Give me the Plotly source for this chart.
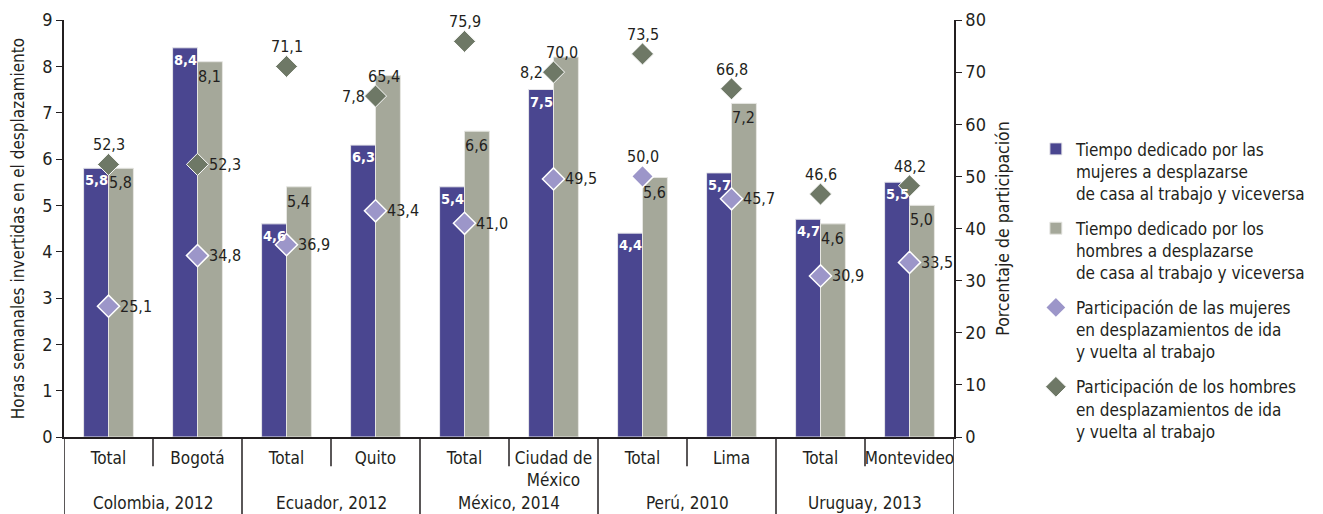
import plotly.graph_objects as go

# datos
paises = ['Colombia, 2012', 'Ecuador, 2012', 'México, 2014', 'Perú, 2010', 'Uruguay, 2013']
areas = ['Total', 'Bogotá', 'Total', 'Quito', 'Total', 'Ciudad de<br>México', 'Total', 'Lima', 'Total', 'Montevideo']
horas_mujeres = [5.8, 8.4, 4.6, 6.3, 5.4, 7.5, 4.4, 5.7, 4.7, 5.5]
horas_hombres = [5.8, 8.1, 5.4, 7.8, 6.6, 8.2, 5.6, 7.2, 4.6, 5.0]
part_mujeres = [25.1, 34.8, 36.9, 43.4, 41.0, 49.5, 50.0, 45.7, 30.9, 33.5]
part_hombres = [52.3, 52.3, 71.1, 65.4, 75.9, 70.0, 73.5, 66.8, 46.6, 48.2]

C_MUJ = '#4a4690'
C_HOM = '#a5a89a'
C_PMUJ = '#9c96c9'
C_PHOM = '#6e7866'
TXT = '#231f20'
FONT = 'DejaVu Sans Condensed, DejaVu Sans, sans-serif'

def fmt(v):
    return f'{v:.1f}'.replace('.', ',')

x = list(range(len(areas)))
off = 0.14

fig = go.Figure()
fig.add_trace(go.Bar(x=x, y=horas_mujeres, name='Tiempo dedicado por las<br>mujeres a desplazarse<br>de casa al trabajo y viceversa',
                     marker=dict(color=C_MUJ, line=dict(color='#e6e6ea', width=1)), offsetgroup='m', legendgroup='a'))
fig.add_trace(go.Bar(x=x, y=horas_hombres, name='Tiempo dedicado por los<br>hombres a desplazarse<br>de casa al trabajo y viceversa',
                     marker=dict(color=C_HOM, line=dict(color='#e6e6e2', width=1)), offsetgroup='h', legendgroup='b'))
fig.add_trace(go.Scatter(x=x, y=part_mujeres, yaxis='y2', mode='markers', legendgroup='c',
                         name='Participación de las mujeres<br>en desplazamientos de ida<br>y vuelta al trabajo',
                         marker=dict(symbol='diamond', size=17, color=C_PMUJ, line=dict(color='white', width=1.5))))
fig.add_trace(go.Scatter(x=x, y=part_hombres, yaxis='y2', mode='markers', legendgroup='d',
                         name='Participación de los hombres<br>en desplazamientos de ida<br>y vuelta al trabajo',
                         marker=dict(symbol='diamond', size=17, color=C_PHOM, line=dict(color='white', width=1))))

ann = []
# etiquetas de horas
for i in x:
    ann.append(dict(x=i - off, y=horas_mujeres[i], text=f'<b>{fmt(horas_mujeres[i])}</b>', showarrow=False,
                    yanchor='top', yshift=-2, font=dict(color='white', size=14.5)))
    if i in (3, 5):
        # etiqueta a la izquierda del rombo de hombres
        ann.append(dict(x=i, y=part_hombres[i] * 9 / 80, text=fmt(horas_hombres[i]), showarrow=False,
                        xanchor='right', xshift=-9, font=dict(color=TXT, size=16)))
    else:
        ann.append(dict(x=i + off, y=horas_hombres[i], text=fmt(horas_hombres[i]), showarrow=False,
                        yanchor='top', yshift=-3, font=dict(color=TXT, size=16)))
# etiquetas de participación
for i in x:
    if i == 1:
        ann.append(dict(x=i, y=part_hombres[i], yref='y2', text=fmt(part_hombres[i]), showarrow=False,
                        xanchor='left', xshift=9, font=dict(color=TXT, size=16)))
    else:
        dx = 0.1 if i in (3, 5) else 0
        ann.append(dict(x=i + dx, y=part_hombres[i], yref='y2', text=fmt(part_hombres[i]), showarrow=False,
                        yanchor='bottom', yshift=8, font=dict(color=TXT, size=16)))
    if i == 6:
        ann.append(dict(x=i, y=part_mujeres[i], yref='y2', text=fmt(part_mujeres[i]), showarrow=False,
                        yanchor='bottom', yshift=8, font=dict(color=TXT, size=16)))
    else:
        ann.append(dict(x=i, y=part_mujeres[i], yref='y2', text=fmt(part_mujeres[i]), showarrow=False,
                        xanchor='left', xshift=9, font=dict(color=TXT, size=16)))
# etiquetas de país
for k, p in enumerate(paises):
    ann.append(dict(x=2 * k + 0.5, y=-0.158, yref='paper', text=p, showarrow=False, yanchor='middle',
                    font=dict(color=TXT, size=17)))

# separadores del eje de categorías
shapes = []
for b in range(len(areas) + 1):
    xb = b - 0.5
    y1 = -0.2 if b % 2 == 0 else -0.07
    shapes.append(dict(type='line', xref='x', yref='paper', x0=xb, x1=xb, y0=0, y1=y1,
                       line=dict(color=TXT, width=1.5)))

# la página html añade 8px de margen al cuerpo
fig.update_layout(
    width=1315, height=506,
    margin=dict(l=56, r=360, t=12, b=77),
    paper_bgcolor='white', plot_bgcolor='white',
    font=dict(family=FONT, color=TXT, size=17),
    barmode='group', bargap=0.44, bargroupgap=0,
    showlegend=True,
    legend=dict(x=1.092, y=0.733, xanchor='left', yanchor='top', valign='top',
                font=dict(size=17), tracegroupgap=10, itemwidth=30),
    annotations=ann, shapes=shapes,
    xaxis=dict(tickmode='array', tickvals=x, ticktext=areas, range=[-0.5, 9.5], automargin=False,
               showline=True, linecolor=TXT, linewidth=1.5, ticks='', showgrid=False,
               tickfont=dict(size=17), zeroline=False, ticklabelstandoff=5),
    yaxis=dict(range=[0, 9], dtick=1, showline=True, linecolor=TXT, linewidth=1.5, ticks='outside',
               ticklen=6, tickcolor=TXT, showgrid=False, zeroline=False, automargin=False,
               tickfont=dict(size=18),
               title=dict(text='Horas semanales invertidas en el desplazamiento', standoff=14, font=dict(size=17))),
    yaxis2=dict(range=[0, 80], dtick=10, overlaying='y', side='right', showline=True, linecolor=TXT,
                linewidth=1.5, ticks='outside', ticklen=6, tickcolor=TXT, showgrid=False, zeroline=False,
                automargin=False, tickfont=dict(size=18),
                title=dict(text='Porcentaje de participación', standoff=12, font=dict(size=17.5))),
)

fig.write_html('out.html')
